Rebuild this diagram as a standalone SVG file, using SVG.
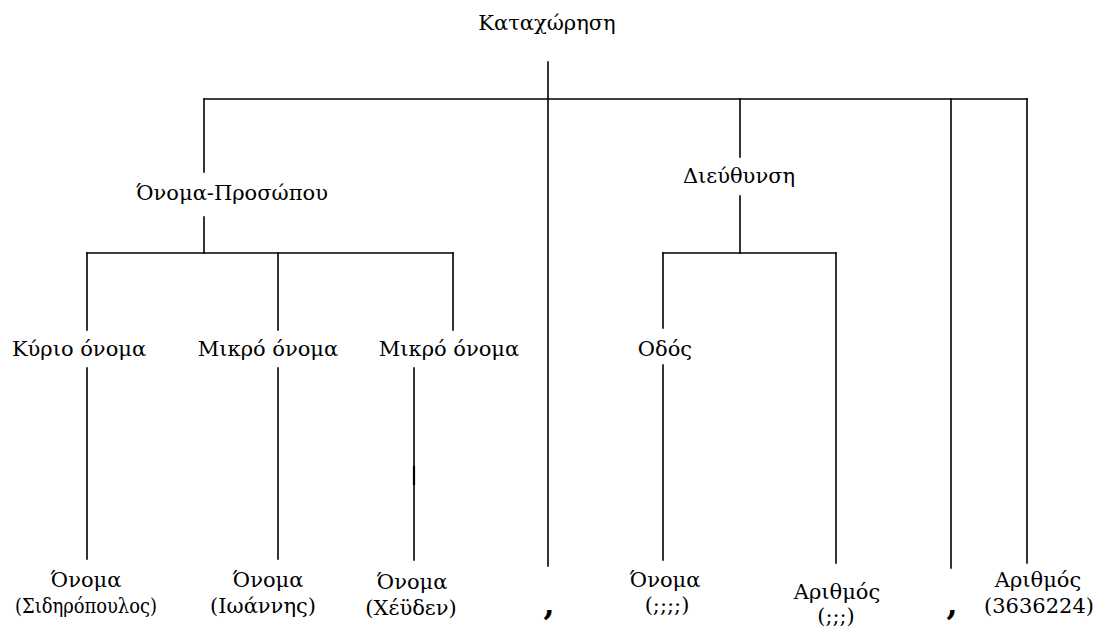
<svg xmlns="http://www.w3.org/2000/svg" width="1112" height="626" viewBox="0 0 1112 626">
  <style>
    text { font-family: "DejaVu Serif", serif; fill: #000; text-anchor: middle; }
    .lbl { font-size: 21px; }
    .sep { font-size: 32px; font-weight: bold; }
    .edge { stroke: #000; stroke-width: 1.6; fill: none; stroke-linecap: square; }
  </style>
  <rect width="1112" height="626" fill="#fff"/>

  <!-- tree branches -->
  <g id="connectors" class="edge">
    <!-- root stem and top bar -->
    <path d="M548 62 V566"/>
    <path d="M204 99 H1027"/>
    <!-- Όνομα-Προσώπου -->
    <path d="M204 99 V172"/>
    <path d="M204 217 V253"/>
    <path d="M87 253 H453"/>
    <path d="M87 253 V330 M87 368 V559"/>
    <path d="M278 253 V330 M278 368 V559"/>
    <path d="M453 253 V330 M414 368 V560"/>
    <path d="M414 467 V484" stroke-width="2.2"/>
    <!-- Διεύθυνση -->
    <path d="M740 99 V157"/>
    <path d="M740 196 V253"/>
    <path d="M663 253 H836"/>
    <path d="M663 253 V328 M663 365 V560"/>
    <path d="M836 253 V563"/>
    <!-- separators and telephone -->
    <path d="M951 99 V568"/>
    <path d="M1027 99 V563"/>
  </g>

  <g id="n-root"><text class="lbl" x="547" y="30">Καταχώρηση</text></g>
  <g id="n-person"><text class="lbl" x="232" y="200">Όνομα-Προσώπου</text></g>
  <g id="n-address"><text class="lbl" x="739" y="183">Διεύθυνση</text></g>

  <g id="n-surname"><text class="lbl" x="79" y="356">Κύριο όνομα</text></g>
  <g id="n-first1"><text class="lbl" x="268" y="356">Μικρό όνομα</text></g>
  <g id="n-first2"><text class="lbl" x="449" y="356">Μικρό όνομα</text></g>
  <g id="n-street"><text class="lbl" x="665" y="356">Οδός</text></g>

  <g id="n-leaf1">
    <text class="lbl" x="86" y="587">Όνομα</text>
    <text class="lbl" x="86" y="613" textLength="142" lengthAdjust="spacingAndGlyphs">(Σιδηρόπουλος)</text>
  </g>
  <g id="n-leaf2">
    <text class="lbl" x="268" y="587">Όνομα</text>
    <text class="lbl" x="263" y="613">(Ιωάννης)</text>
  </g>
  <g id="n-leaf3">
    <text class="lbl" x="412" y="589">Όνομα</text>
    <text class="lbl" x="411" y="615">(Χέϋδεν)</text>
  </g>
  <g id="n-comma1"><text class="sep" x="549" y="615">,</text></g>
  <g id="n-leaf4">
    <text class="lbl" x="665" y="587">Όνομα</text>
    <text class="lbl" x="667" y="612">(;;;;)</text>
  </g>
  <g id="n-leaf5">
    <text class="lbl" x="837" y="599">Αριθμός</text>
    <text class="lbl" x="836" y="623">(;;;)</text>
  </g>
  <g id="n-comma2"><text class="sep" x="952" y="615">,</text></g>
  <g id="n-leaf6">
    <text class="lbl" x="1038" y="587">Αριθμός</text>
    <text class="lbl" x="1039" y="613">(3636224)</text>
  </g>
</svg>
